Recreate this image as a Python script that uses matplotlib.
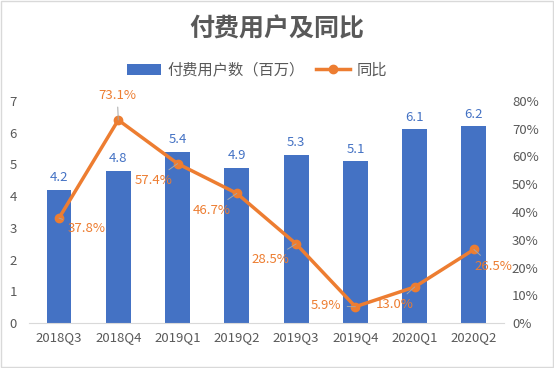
import matplotlib
matplotlib.use("Agg")
import matplotlib.pyplot as plt
import numpy as np

plt.rcParams['font.family'] = ['Noto Sans CJK SC', 'DejaVu Sans']

quarters = ['2018Q3', '2018Q4', '2019Q1', '2019Q2', '2019Q3', '2019Q4', '2020Q1', '2020Q2']
users = [4.2, 4.8, 5.4, 4.9, 5.3, 5.1, 6.1, 6.2]
yoy = [37.8, 73.1, 57.4, 46.7, 28.5, 5.9, 13.0, 26.5]

# label offsets in pixels (text centre relative to point)
offs = [(28, -10), (-1, 25), (-24, -17), (-25, -17), (-26, -16), (-29, 1), (-20, -18), (19, -17)]

blue = '#4472C4'
orange = '#ED7D31'
grey = '#595959'

fig = plt.figure(figsize=(5.54, 3.68), dpi=100)
ax = fig.add_axes([0.053, 0.122, 0.856, 0.604])
x = np.arange(len(quarters))
bars = ax.bar(x, users, width=0.42, color=blue, zorder=2, label='付费用户数（百万）')
ax.set_ylim(0, 7)
ax.set_xlim(-0.5, len(quarters) - 0.5)
ax.set_yticks(range(0, 8))
ax.set_xticks(x)
ax.set_xticklabels(quarters)
for s in ['top', 'left', 'right']:
    ax.spines[s].set_visible(False)
ax.spines['bottom'].set_color('#D9D9D9')
ax.tick_params(length=0, colors=grey, labelsize=9.5)
ax.tick_params(axis='x', pad=6)
ax.tick_params(axis='y', pad=9)
for xi, v in zip(x, users):
    ax.annotate(f'{v:.1f}', (xi, v), xytext=(0, 4), textcoords='offset points',
                ha='center', va='bottom', color=blue, fontsize=9.5)

ax2 = ax.twinx()
ax2.plot(x, yoy, color=orange, lw=2.5, marker='o', ms=6, zorder=3, label='同比')
ax2.set_ylim(0, 80)
ax2.set_yticks(range(0, 81, 10))
ax2.set_yticklabels([f'{t}%' for t in range(0, 81, 10)])
for s in ['top', 'left', 'right', 'bottom']:
    ax2.spines[s].set_visible(False)
ax2.tick_params(length=0, colors=grey, labelsize=9.5, pad=6)
for xi, v, o in zip(x, yoy, offs):
    ax2.annotate(f'{v:.1f}%', (xi, v), xytext=o, textcoords='offset pixels',
                 ha='center', va='center', color=orange, fontsize=9.5,
                 arrowprops=dict(arrowstyle='-', color='#A6A6A6', lw=0.7,
                                 shrinkA=2, shrinkB=0))

fig.text(0.5, 1 - 29 / 368, '付费用户及同比', ha='center', va='center',
         fontsize=18, fontweight='bold', color=grey)
h1, l1 = ax.get_legend_handles_labels()
h2, l2 = ax2.get_legend_handles_labels()
fig.legend(h1 + h2, l1 + l2, loc='center', bbox_to_anchor=(257 / 554, 1 - 70 / 368),
           ncol=2, frameon=False, fontsize=11, labelcolor=grey, handlelength=2.2,
           columnspacing=0.8, handletextpad=0.4)

fig.patches.append(plt.Rectangle((0.002, 0.003), 0.996, 0.994, transform=fig.transFigure,
                                 fill=False, edgecolor='#D9D9D9', lw=1))
fig.savefig('out.png', dpi=100)
